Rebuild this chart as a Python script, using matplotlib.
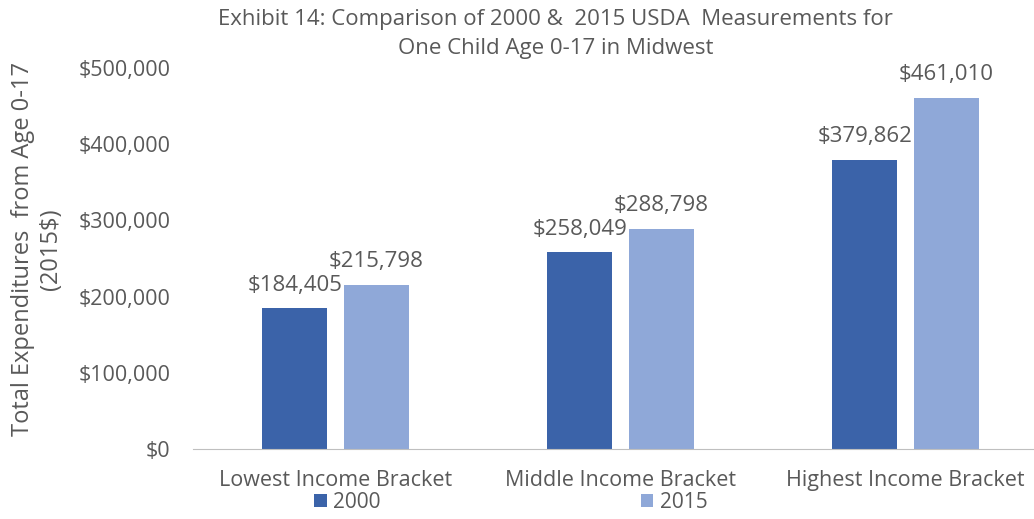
import matplotlib.pyplot as plt
import numpy as np

brackets = ["Lowest Income Bracket", "Middle Income Bracket", "Highest Income Bracket"]
spend_2000 = [184405, 258049, 379862]
spend_2015 = [215798, 288798, 461010]
yticks = [0, 100000, 200000, 300000, 400000, 500000]

plt.rcParams['font.family'] = ['Open Sans', 'DejaVu Sans']
grey = '#595959'

fig = plt.figure(figsize=(10.34, 5.19), dpi=100)
ax = fig.add_axes([0.1865, 0.135, 0.8135, 0.734])

x = np.arange(len(brackets))
w = 0.228
off = 0.143
b1 = ax.bar(x - off, spend_2000, w, color='#3B63A9', label='2000')
b2 = ax.bar(x + off, spend_2015, w, color='#8FA8D8', label='2015')

# value labels over each bar
for bars, vals in ((b1, spend_2000), (b2, spend_2015)):
    for rect, v in zip(bars, vals):
        ax.annotate(f"${v:,}", (rect.get_x() + rect.get_width() / 2, v),
                    xytext=(0, 9), textcoords='offset points',
                    ha='center', va='bottom', fontsize=16, color=grey)

ax.set_xlim(-0.5, 2.45)
ax.set_ylim(0, 500000)
ax.set_yticks(yticks)
ax.set_yticklabels([f"${t:,}" for t in yticks])
ax.set_xticks(x)
ax.set_xticklabels(brackets)
ax.tick_params(axis='y', length=0, labelsize=15.5, colors=grey, pad=16)
ax.tick_params(axis='x', length=0, labelsize=15.5, colors=grey, pad=15)

for s in ('top', 'right', 'left'):
    ax.spines[s].set_visible(False)
ax.spines['bottom'].set_color('#BFBFBF')

fig.text(0.036, 0.52, "Total Expenditures  from Age 0-17\n(2015$)", rotation=90,
         ha='center', va='center', multialignment='center',
         fontsize=17, color=grey, linespacing=1.25)

fig.text(0.537, 0.982, "Exhibit 14: Comparison of 2000 &  2015 USDA  Measurements for\nOne Child Age 0-17 in Midwest",
         ha='center', va='top', fontsize=16, color=grey, linespacing=1.5)

fig.legend(loc='lower center', bbox_to_anchor=(0.494, -0.012), ncol=2, frameon=False,
           fontsize=15, labelcolor=grey, handlelength=0.6, handleheight=0.6,
           handletextpad=0.3, columnspacing=12.5, borderaxespad=0.2)

fig.savefig('out.png', dpi=100)
